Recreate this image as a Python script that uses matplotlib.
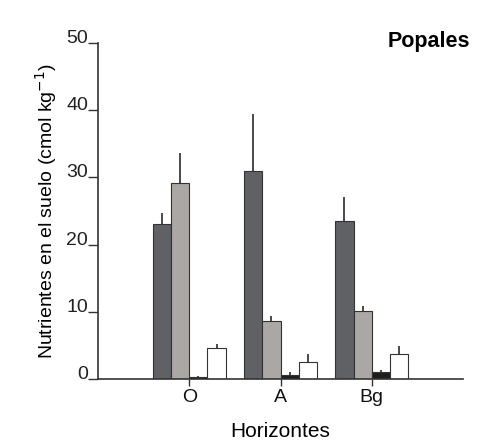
import numpy as np
import matplotlib
matplotlib.use("Agg")
import matplotlib.pyplot as plt

# datos
horizontes = ["O", "A", "Bg"]
serie1 = [23.1, 31.0, 23.5]
serie2 = [29.2, 8.6, 10.1]
serie3 = [0.3, 0.6, 1.0]
serie4 = [4.6, 2.5, 3.7]
err1 = [1.6, 8.4, 3.6]
err2 = [4.4, 0.8, 0.8]
err3 = [0.1, 0.4, 0.3]
err4 = [0.6, 1.2, 1.2]

colores = ["#606165", "#aaa7a4", "#1e1e1e", "#ffffff"]

plt.rcParams['font.family'] = ['Liberation Sans', 'DejaVu Sans']

fig = plt.figure(figsize=(4.87, 4.47), dpi=100)
ax = fig.add_axes([0.201, 0.152, 0.75, 0.752])

x = np.arange(len(horizontes))
w = 0.2
series = [serie1, serie2, serie3, serie4]
errores = [err1, err2, err3, err4]
for i, (vals, errs) in enumerate(zip(series, errores)):
    pos = x + (i - 1.5) * w
    ax.bar(pos, vals, w, color=colores[i], edgecolor="#333333", linewidth=0.8,
           yerr=[np.zeros(len(errs)), errs], ecolor="#3a3a3a",
           error_kw=dict(elinewidth=1.3, capsize=0))

ax.set_xlim(-1.0, 3.0)
ax.set_ylim(0, 50)
ax.set_yticks([0, 10, 20, 30, 40, 50])
ax.set_xticks(x)
ax.set_xticklabels(horizontes)
ax.spines['top'].set_visible(False)
ax.spines['right'].set_visible(False)
ax.spines['left'].set_color("#333333")
ax.spines['bottom'].set_color("#333333")
ax.spines['left'].set_linewidth(1.2)
ax.spines['bottom'].set_linewidth(1.2)
ax.tick_params(axis='y', labelsize=14, colors="#333333", labelcolor="#222222",
               length=7, width=1.0, direction='out', pad=0)
ax.tick_params(axis='x', labelsize=14, colors="#333333", labelcolor="#111111",
               length=5, width=1.0, direction='out', pad=2)
# etiquetas del eje y apoyadas sobre la marca
for lbl in ax.get_yticklabels():
    lbl.set_verticalalignment('baseline')

ax.set_ylabel("Nutrientes en el suelo (cmol kg$^{-1}$)", fontsize=14, labelpad=5)
ax.set_xlabel("Horizontes", fontsize=15, labelpad=12)
fig.text(0.965, 0.907, "Popales", fontsize=15.5, fontweight="bold",
         ha="right", va="center")

fig.savefig("out.png", dpi=100)
